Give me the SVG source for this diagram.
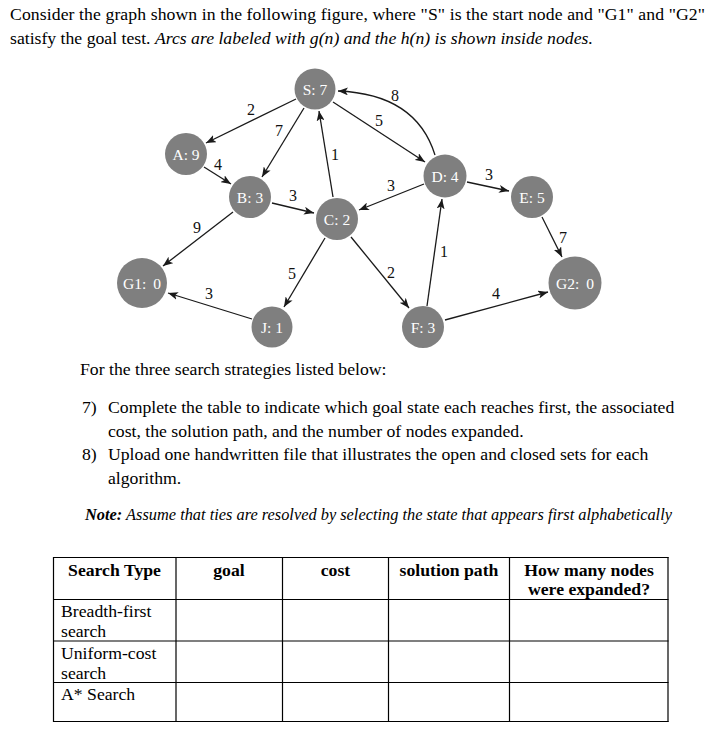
<svg xmlns="http://www.w3.org/2000/svg" width="720" height="732" viewBox="0 0 720 732">
<style>
.t{font-family:"Liberation Serif","Times New Roman",serif;font-size:17.7px;fill:#000}
.i{font-style:italic}
.b{font-weight:bold}
.node circle{fill:#7f7f7f}
.node text{font-family:"Liberation Serif","Times New Roman",serif;font-size:15.5px;fill:#fff;text-anchor:middle;dominant-baseline:central}
.edge{fill:none;stroke:#1a1a1a;stroke-width:1.3;marker-end:url(#ah)}
.el{font-family:"Liberation Serif","Times New Roman",serif;font-size:16px;fill:#111;text-anchor:middle;dominant-baseline:central}
.grid line{stroke:#000;stroke-width:1.2}
.c{text-anchor:middle}
</style>
<defs>
<marker id="ah" markerUnits="userSpaceOnUse" markerWidth="11" markerHeight="8" refX="10" refY="4" orient="auto">
<path d="M0,0 L10,4 L0,8 L2.5,4 z" fill="#1a1a1a"/>
</marker>
</defs>
<rect width="720" height="732" fill="#fff"/>

<g id="intro">
<text class="t" x="10" y="20" textLength="695" lengthAdjust="spacing">Consider the graph shown in the following figure, where "S" is the start node and "G1" and "G2"</text>
<text class="t" x="10" y="44">satisfy the goal test. <tspan class="i">Arcs are labeled with g(n) and the h(n) is shown inside nodes.</tspan></text>
</g>

<g id="connectors">
<line class="edge" x1="296" y1="99" x2="206" y2="143"/>
<line class="edge" x1="304" y1="108" x2="262" y2="177"/>
<line class="edge" x1="333" y1="197" x2="319" y2="111"/>
<line class="edge" x1="333" y1="102" x2="425" y2="162"/>
<path class="edge" d="M435,155 Q416,94 338,91"/>
<line class="edge" x1="204" y1="167" x2="231" y2="184"/>
<line class="edge" x1="272" y1="203" x2="314" y2="213"/>
<line class="edge" x1="424" y1="184" x2="359" y2="210"/>
<line class="edge" x1="467" y1="182" x2="509" y2="191"/>
<line class="edge" x1="233" y1="212" x2="163" y2="266"/>
<line class="edge" x1="325" y1="238" x2="284" y2="307"/>
<line class="edge" x1="252" y1="319" x2="168" y2="293"/>
<line class="edge" x1="351" y1="237" x2="409" y2="308"/>
<line class="edge" x1="427" y1="306" x2="442" y2="199"/>
<line class="edge" x1="542" y1="217" x2="562" y2="257"/>
<line class="edge" x1="445" y1="320" x2="548" y2="292"/>
<text class="el" x="251" y="109">2</text>
<text class="el" x="279" y="130">7</text>
<text class="el" x="335" y="154">1</text>
<text class="el" x="218" y="164">4</text>
<text class="el" x="293" y="195">3</text>
<text class="el" x="197" y="227">9</text>
<text class="el" x="395" y="95">8</text>
<text class="el" x="379" y="120">5</text>
<text class="el" x="391" y="185">3</text>
<text class="el" x="489" y="174">3</text>
<text class="el" x="563" y="237">7</text>
<text class="el" x="292" y="273">5</text>
<text class="el" x="209" y="293">3</text>
<text class="el" x="391" y="272">2</text>
<text class="el" x="444" y="251">1</text>
<text class="el" x="496" y="293">4</text>
</g>

<g id="S" class="node"><circle cx="315" cy="89" r="20.5"/><text x="315" y="89">S: 7</text></g>
<g id="A" class="node"><circle cx="186" cy="154" r="21"/><text x="186" y="154">A: 9</text></g>
<g id="B" class="node"><circle cx="250" cy="197" r="21"/><text x="250" y="197">B: 3</text></g>
<g id="C" class="node"><circle cx="337" cy="219" r="21"/><text x="337" y="219">C: 2</text></g>
<g id="D" class="node"><circle cx="445" cy="176" r="21.5"/><text x="445" y="176">D: 4</text></g>
<g id="E" class="node"><circle cx="532" cy="197" r="21"/><text x="532" y="197">E: 5</text></g>
<g id="G1" class="node"><circle cx="142" cy="283" r="25"/><text x="142" y="283" word-spacing="3">G1: 0</text></g>
<g id="J" class="node"><circle cx="272" cy="327" r="20.5"/><text x="272" y="327">J: 1</text></g>
<g id="F" class="node"><circle cx="423" cy="327" r="21"/><text x="423" y="327">F: 3</text></g>
<g id="G2" class="node"><circle cx="575" cy="283" r="26.5"/><text x="575" y="283" word-spacing="3">G2: 0</text></g>

<g id="questions">
<text class="t" x="80" y="375">For the three search strategies listed below:</text>
<text class="t" x="82" y="413">7)</text>
<text class="t" x="108" y="413">Complete the table to indicate which goal state each reaches first, the associated</text>
<text class="t" x="108" y="437">cost, the solution path, and the number of nodes expanded.</text>
<text class="t" x="82" y="460">8)</text>
<text class="t" x="108" y="460">Upload one handwritten file that illustrates the open and closed sets for each</text>
<text class="t" x="108" y="484">algorithm.</text>
<text class="t i" x="85" y="520" font-size="16" textLength="587" lengthAdjust="spacingAndGlyphs"><tspan class="b">Note:</tspan> Assume that ties are resolved by selecting the state that appears first alphabetically</text>
</g>

<g id="table">
<g class="grid">
<line x1="53" y1="557.5" x2="668.5" y2="557.5"/>
<line x1="53" y1="599.5" x2="668.5" y2="599.5"/>
<line x1="53" y1="641" x2="668.5" y2="641"/>
<line x1="53" y1="682.5" x2="668.5" y2="682.5"/>
<line x1="53" y1="721.5" x2="668.5" y2="721.5"/>
<line x1="53.5" y1="557" x2="53.5" y2="722"/>
<line x1="176" y1="557" x2="176" y2="722"/>
<line x1="282.5" y1="557" x2="282.5" y2="722"/>
<line x1="388.5" y1="557" x2="388.5" y2="722"/>
<line x1="509.5" y1="557" x2="509.5" y2="722"/>
<line x1="668" y1="557" x2="668" y2="722"/>
</g>
<text class="t b c" x="114.5" y="576">Search Type</text>
<text class="t b c" x="229" y="576">goal</text>
<text class="t b c" x="335.5" y="576">cost</text>
<text class="t b c" x="449" y="576">solution path</text>
<text class="t b c" x="589" y="576">How many nodes</text>
<text class="t b c" x="589" y="595">were expanded?</text>
<text class="t" x="61" y="617">Breadth-first</text>
<text class="t" x="61" y="637">search</text>
<text class="t" x="61" y="659">Uniform-cost</text>
<text class="t" x="61" y="679">search</text>
<text class="t" x="61" y="700">A* Search</text>
</g>
</svg>
